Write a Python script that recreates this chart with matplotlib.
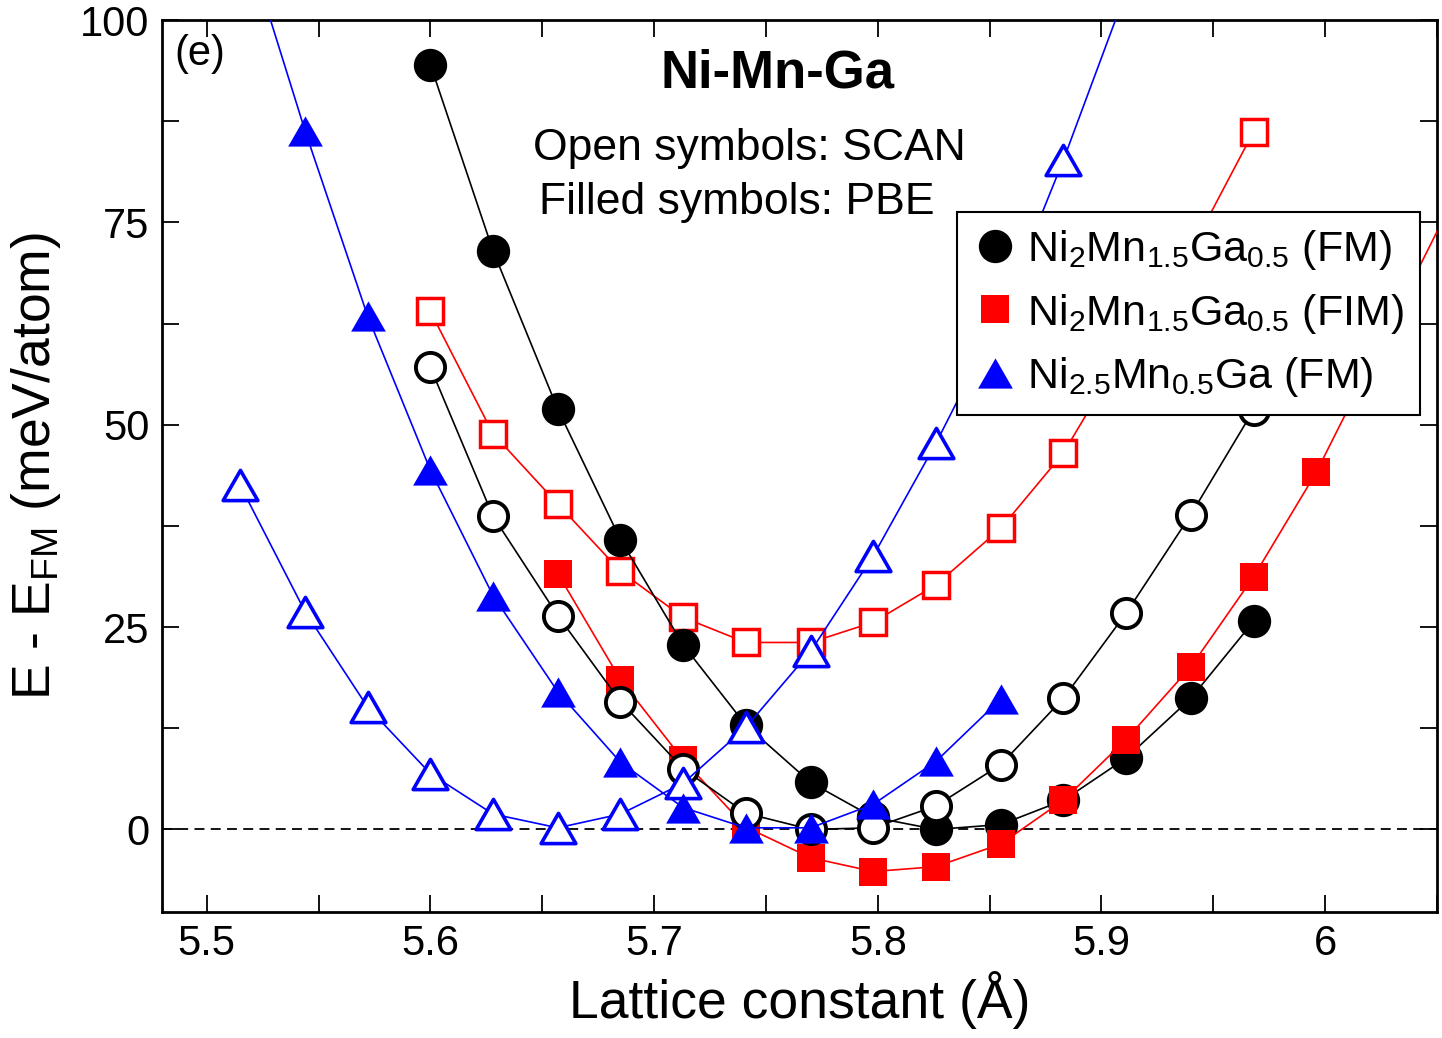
import matplotlib
matplotlib.use("Agg")
import matplotlib.pyplot as plt
from matplotlib.lines import Line2D
from matplotlib.path import Path
from matplotlib.ticker import MultipleLocator

plt.rcParams["font.family"] = ["Liberation Sans", "DejaVu Sans"]
plt.rcParams["mathtext.default"] = "regular"

# lattice constants (Angstrom)
a_fm = [5.600, 5.628, 5.657, 5.685, 5.713, 5.741, 5.770, 5.798, 5.826, 5.855,
        5.883, 5.911, 5.940, 5.968]
a_fim_pbe = [5.657, 5.685, 5.713, 5.741, 5.770, 5.798, 5.826, 5.855, 5.883,
             5.911, 5.940, 5.968, 5.996, 6.024, 6.053]
a_fim_scan = [5.600, 5.628, 5.657, 5.685, 5.713, 5.741, 5.770, 5.798, 5.826,
              5.855, 5.883, 5.911, 5.940, 5.968]
a_ni25_pbe = [5.515, 5.544, 5.572, 5.600, 5.628, 5.657, 5.685, 5.713, 5.741,
              5.770, 5.798, 5.826, 5.855]
a_ni25_scan = [5.515, 5.544, 5.572, 5.600, 5.628, 5.657, 5.685, 5.713, 5.741,
               5.770, 5.798, 5.826, 5.855, 5.883, 5.911]

# E - E_FM (meV/atom)
e_fm_pbe = [94.5, 71.5, 51.9, 35.8, 22.8, 12.9, 5.8, 1.5, 0.0, 0.6, 3.6, 8.8,
            16.2, 25.7]
e_fm_scan = [57.1, 38.7, 26.4, 15.8, 7.5, 2.0, 0.0, 0.2, 2.9, 8.0, 16.2, 26.7,
             38.9, 51.8]
e_fim_pbe = [31.6, 18.5, 8.6, 0.3, -3.5, -5.2, -4.6, -1.8, 3.6, 11.1, 20.1,
             31.2, 44.1, 59.5, 75.5]
e_fim_scan = [64.0, 48.9, 40.2, 31.9, 26.2, 23.1, 23.1, 25.6, 30.2, 37.2, 46.5,
              59.5, 71.5, 86.2]
e_ni25_pbe = [112.0, 86.3, 63.4, 44.4, 28.9, 17.0, 8.3, 2.7, 0.2, 0.2, 3.1,
              8.4, 16.1]
e_ni25_scan = [42.5, 26.9, 15.1, 6.9, 1.9, 0.2, 1.9, 5.7, 12.6, 22.0, 33.8,
               47.7, 63.5, 82.7, 103.5]

legend_labels = [r"Ni$_2$Mn$_{1.5}$Ga$_{0.5}$ (FM)",
                 r"Ni$_2$Mn$_{1.5}$Ga$_{0.5}$ (FIM)",
                 r"Ni$_{2.5}$Mn$_{0.5}$Ga (FM)"]

XLIM = (5.48, 6.05)
YLIM = (-10.2, 100)

# equilateral-ish triangle (bbox centred)
tri = Path([(-1, -0.87), (1, -0.87), (0, 0.87), (-1, -0.87)],
           [Path.MOVETO, Path.LINETO, Path.LINETO, Path.CLOSEPOLY])

BLUE = "#0000ff"
RED = "#ff0000"


def inside(xs, ys):
    # symbols are only drawn for points inside the plot window (like xmgrace)
    return [i for i, (x, y) in enumerate(zip(xs, ys))
            if XLIM[0] <= x <= XLIM[1] and YLIM[0] <= y <= YLIM[1]]


def series(ax, xs, ys, color, marker, ms, filled, mew, z):
    ax.plot(xs, ys, color=color, lw=1.2, marker=marker, ms=ms,
            mfc=color if filled else "white", mec=color,
            mew=0 if filled else mew, markevery=inside(xs, ys), zorder=z)


fig = plt.figure(figsize=(14.42, 10.38), dpi=100)
ax = fig.add_axes([0.1123, 0.1214, 0.8842, 0.8593])

ax.axhline(0, color="black", lw=1.3, ls=(0, (5.5, 3.5)), zorder=1)

series(ax, a_fim_scan, e_fim_scan, RED, "s", 18.5, False, 2.5, 2)
series(ax, a_fm, e_fm_pbe, "black", "o", 24, True, 0, 3)
series(ax, a_fim_pbe, e_fim_pbe, RED, "s", 20.5, True, 0, 4)
series(ax, a_fm, e_fm_scan, "black", "o", 21, False, 2.8, 5)
series(ax, a_ni25_scan, e_ni25_scan, BLUE, tri, 25, False, 2.6, 6)
series(ax, a_ni25_pbe, e_ni25_pbe, BLUE, tri, 25, True, 0, 7)

ax.set_xlim(*XLIM)
ax.set_ylim(*YLIM)
ax.xaxis.set_minor_locator(MultipleLocator(0.05))
ax.yaxis.set_major_locator(MultipleLocator(25))
ax.yaxis.set_minor_locator(MultipleLocator(12.5))
ax.set_xticks([5.5, 5.6, 5.7, 5.8, 5.9, 6.0])
ax.set_xticklabels(["5.5", "5.6", "5.7", "5.8", "5.9", "6"])
ax.tick_params(which="both", direction="in", top=True, right=True,
               length=12, width=1.3, labelsize=30, pad=9)
for sp in ax.spines.values():
    sp.set_linewidth(2.0)

ax.set_xlabel("Lattice constant (Å)", fontsize=38.5, labelpad=5)
ax.set_ylabel(r"E - E$_{FM}$ (meV/atom)", fontsize=38.5, labelpad=12)

ax.text(0.03, 0.962, "(e)", transform=ax.transAxes, fontsize=30,
        ha="center", va="center")
ax.text(0.483, 0.9406, "Ni-Mn-Ga", transform=ax.transAxes, fontsize=38,
        fontweight="bold", ha="center", va="center")
ax.text(0.4604, 0.8565, "Open symbols: SCAN", transform=ax.transAxes,
        fontsize=32, ha="center", va="center")
ax.text(0.451, 0.795, "Filled symbols: PBE", transform=ax.transAxes,
        fontsize=32, ha="center", va="center")

handles = [
    Line2D([], [], ls="none", marker="o", ms=24, mfc="black", mec="black", mew=0),
    Line2D([], [], ls="none", marker="s", ms=20.5, mfc=RED, mec=RED, mew=0),
    Line2D([], [], ls="none", marker=tri, ms=25, mfc=BLUE, mec=BLUE, mew=0),
]
leg = ax.legend(handles, legend_labels, loc="upper right",
                bbox_to_anchor=(0.987, 0.785), borderaxespad=0,
                fontsize=31, frameon=True, fancybox=False, framealpha=1,
                edgecolor="black", handlelength=1.0, handletextpad=0.25,
                labelspacing=0.45, borderpad=0.38)
leg.get_frame().set_linewidth(1.5)
leg.set_zorder(10)

fig.savefig("out.png", dpi=100)
